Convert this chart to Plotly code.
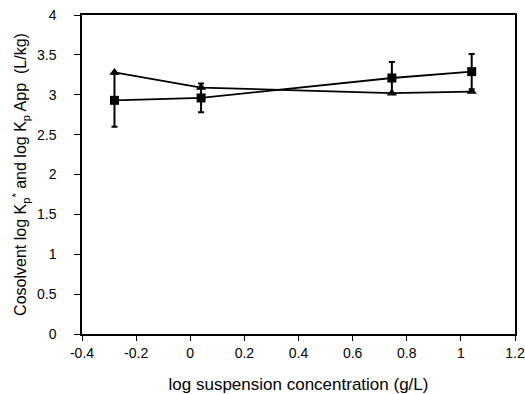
import plotly.graph_objects as go

x_vals = [-0.28, 0.04, 0.745, 1.04]
kp_app = [2.93, 2.96, 3.21, 3.29]
kp_app_err = [0.33, 0.18, 0.20, 0.22]
kp_star = [3.28, 3.09, 3.02, 3.04]

x_ticks = [-0.4, -0.2, 0, 0.2, 0.4, 0.6, 0.8, 1, 1.2]
x_ticktext = ["-0.4", "-0.2", "0", "0.2", "0.4", "0.6", "0.8", "1", "1.2"]
y_ticks = [0, 0.5, 1, 1.5, 2, 2.5, 3, 3.5, 4]
y_ticktext = ["0", "0.5", "1", "1.5", "2", "2.5", "3", "3.5", "4"]

fig = go.Figure()
fig.add_trace(go.Scatter(
    x=x_vals, y=kp_star, mode="lines+markers",
    line=dict(color="black", width=1.8),
    marker=dict(symbol="triangle-up", size=9, color="black"),
    showlegend=False,
))
fig.add_trace(go.Scatter(
    x=x_vals, y=kp_app, mode="lines+markers",
    line=dict(color="black", width=1.8),
    marker=dict(symbol="square", size=9, color="black"),
    error_y=dict(type="data", array=kp_app_err, color="black", thickness=2, width=3),
    showlegend=False,
))

axis_font = dict(family="Liberation Sans, Arial, sans-serif", size=14, color="black")
fig.update_layout(
    width=525, height=394,
    margin=dict(l=82, r=10, t=15, b=60, autoexpand=False),
    paper_bgcolor="white", plot_bgcolor="white",
    font=axis_font,
    xaxis=dict(
        range=[-0.4, 1.2], tickvals=x_ticks, ticktext=x_ticktext,
        ticks="outside", ticklen=5, tickcolor="black", tickwidth=1.2,
        showline=True, linecolor="black", linewidth=1.5, mirror=True,
        showgrid=False, zeroline=False, automargin=False,
        title=dict(text="log suspension concentration (g/L)", font=dict(size=17), standoff=20),
        tickfont=dict(size=14),
    ),
    yaxis=dict(
        range=[0, 4], tickvals=y_ticks, ticktext=y_ticktext,
        ticks="outside", ticklen=6, tickcolor="black", tickwidth=1.2,
        showline=True, linecolor="black", linewidth=1.5, mirror=True,
        showgrid=False, zeroline=False, automargin=False,
        ticklabelstandoff=15,
        title=dict(text="Cosolvent log K<sub>p</sub><sup>*</sup> and log K<sub>p</sub> App  (L/kg)",
                   font=dict(size=16), standoff=6),
        tickfont=dict(size=14),
    ),
)
fig.write_html("out.html", config={"displayModeBar": False},
               post_script="document.body.style.margin='0';")
